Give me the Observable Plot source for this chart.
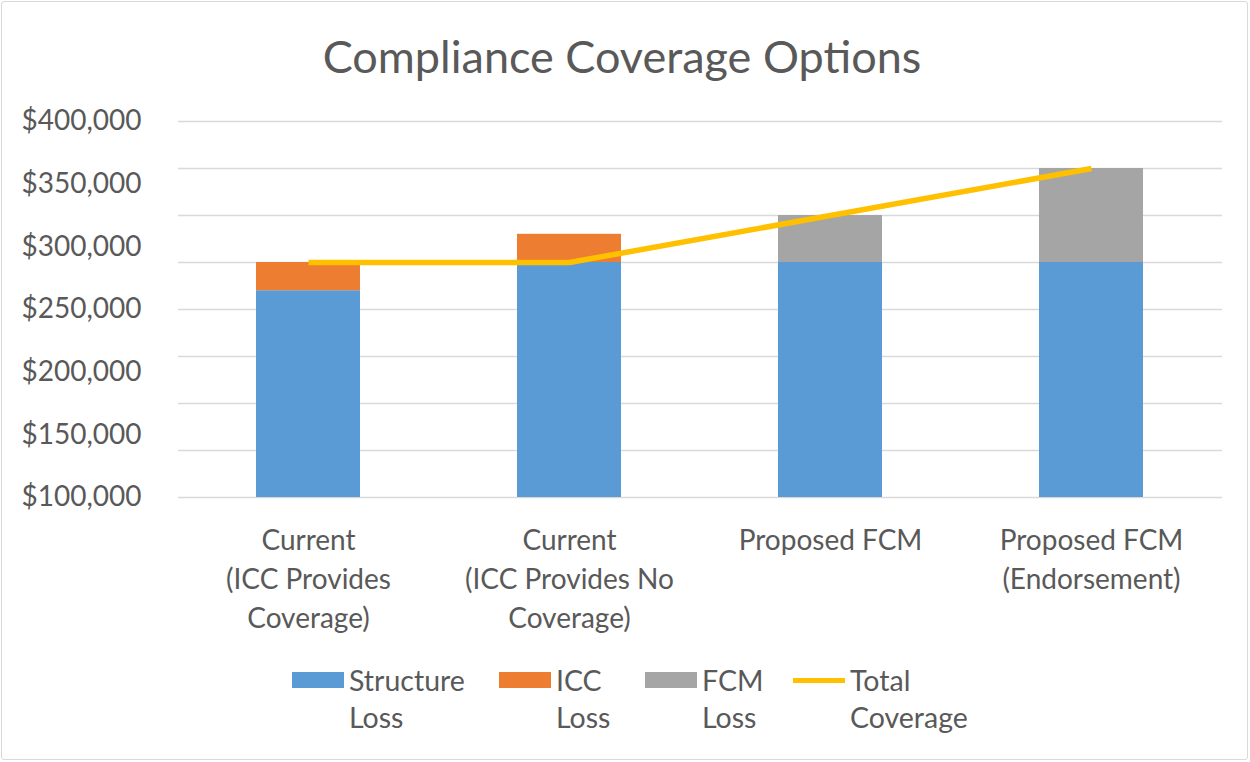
<!DOCTYPE html>
<html><head><meta charset="utf-8">
<script src="https://cdn.jsdelivr.net/npm/d3@7"></script>
<script src="https://cdn.jsdelivr.net/npm/@observablehq/plot@0.6"></script>
<style>
html,body{margin:0;padding:0;background:#fff;}
body{width:1250px;height:762px;position:relative;overflow:hidden;font-family:Lato,"Open Sans",sans-serif;color:#595959;}
#frame{position:absolute;left:1px;top:1px;width:1247px;height:759px;box-sizing:border-box;border:1px solid #d9d9d9;border-radius:3px;pointer-events:none;}
#title{position:absolute;left:0;top:28px;width:1244px;text-align:center;font-size:45px;line-height:56px;color:#595959;}
#chart{position:absolute;left:0;top:0;}
.leg{position:absolute;top:662px;font-size:28.5px;line-height:37px;color:#595959;}
.leg .sw{position:absolute;left:0;top:10px;width:52px;height:16px;}
.leg .ln{position:absolute;left:0;top:16px;width:52px;height:5px;}
.leg .tx{position:absolute;left:57px;top:0;white-space:nowrap;}
</style></head>
<body>
<div id="title">Compliance Coverage Options</div>
<div id="chart"></div>
<div id="legend"></div>
<div id="frame"></div>
<script>
const categories = ["Current\n(ICC Provides\nCoverage)", "Current\n(ICC Provides No\nCoverage)", "Proposed FCM", "Proposed FCM\n(Endorsement)"];
const seriesNames = ["Structure Loss", "ICC Loss", "FCM Loss"];
const seriesColors = ["#5B9BD5", "#ED7D31", "#A5A5A5"];
const structureLoss = [265000, 287500, 287500, 287500];
const iccLoss = [22500, 22500, 0, 0];
const fcmLoss = [0, 0, 37500, 75000];
const totalCoverage = [287500, 287500, 325000, 362500];
const totalName = "Total Coverage";
const totalColor = "#FFC000";
const yTicks = [100000, 150000, 200000, 250000, 300000, 350000, 400000];
const gridValues = [100000, 137500, 175000, 212500, 250000, 287500, 325000, 362500, 400000];
const legendLabels = [["Structure","Loss"],["ICC","Loss"],["FCM","Loss"],["Total","Coverage"]];
const legendLeft = [292, 499, 645, 793];

const seriesValues = [structureLoss, iccLoss, fcmLoss];
const barData = [];
seriesNames.forEach((s, si) => categories.forEach((c, ci) => barData.push({cat: c, series: s, value: seriesValues[si][ci]})));
const lineData = categories.map((c, i) => ({cat: c, value: totalCoverage[i]}));

const chart = Plot.plot({
  width: 1250, height: 640,
  marginTop: 121, marginBottom: 143, marginLeft: 178, marginRight: 28,
  style: {fontFamily: "Lato, 'Open Sans', sans-serif", fontSize: "28px", color: "#595959", background: "transparent", overflow: "visible"},
  x: {domain: categories, paddingInner: 0.6, paddingOuter: 0.3, axis: null},
  y: {domain: [100000, 400000], clamp: true, axis: null},
  color: {domain: seriesNames, range: seriesColors},
  marks: [
    Plot.ruleY(gridValues, {stroke: "#d9d9d9", strokeWidth: 1.5}),
    Plot.barY(barData, {x: "cat", y: "value", fill: "series"}),
    Plot.line(lineData, {x: "cat", y: "value", stroke: totalColor, strokeWidth: 5.5, strokeLinecap: "butt", strokeLinejoin: "round"}),
    Plot.axisY(yTicks, {tickSize: 0, tickPadding: 37, tickFormat: d => "$" + d3.format(",")(d), fontSize: 28, label: null}),
    Plot.axisX({tickSize: 0, tickPadding: 25, lineHeight: 1.39, fontSize: 28, label: null})
  ]
});
document.getElementById("chart").appendChild(chart);

const leg = document.getElementById("legend");
legendLabels.forEach((lab, i) => {
  const d = document.createElement("div");
  d.className = "leg";
  d.style.left = legendLeft[i] + "px";
  const sw = document.createElement("div");
  if (i < 3) { sw.className = "sw"; sw.style.background = seriesColors[i]; }
  else { sw.className = "ln"; sw.style.background = totalColor; }
  const tx = document.createElement("div");
  tx.className = "tx";
  tx.innerHTML = lab.join("<br>");
  d.appendChild(sw); d.appendChild(tx);
  leg.appendChild(d);
});
</script>
</body></html>
